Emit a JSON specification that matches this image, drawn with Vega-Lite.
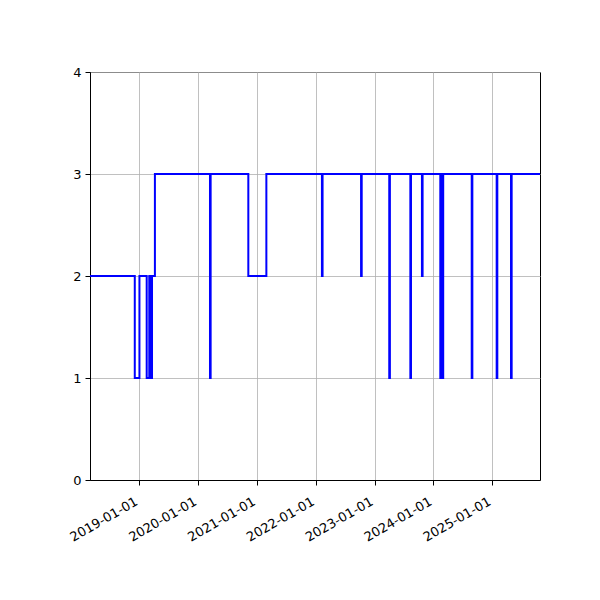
{
  "$schema": "https://vega.github.io/schema/vega-lite/v6.json",
  "description": "Step line of a level over time, 2018 to 2025.",
  "width": 450,
  "height": 408,
  "autosize": {"type": "none"},
  "padding": {"left": 90, "top": 72, "right": 60, "bottom": 120},
  "background": "white",
  "config": {
    "font": "DejaVu Sans",
    "view": {"stroke": "black", "strokeWidth": 1},
    "axis": {
      "labelFont": "DejaVu Sans",
      "labelFontSize": 13,
      "labelColor": "black",
      "domainColor": "black",
      "tickColor": "black",
      "tickSize": 5,
      "gridColor": "#b0b0b0",
      "gridWidth": 0.8,
      "grid": true,
      "labelOverlap": false,
      "labelBound": false,
      "title": null
    }
  },
  "data": {
    "values": [
      {"date": "2018-03-01", "level": 2},
      {"date": "2018-12-04", "level": 1},
      {"date": "2019-01-02", "level": 2},
      {"date": "2019-02-16", "level": 1},
      {"date": "2019-03-04", "level": 2},
      {"date": "2019-03-06", "level": 1},
      {"date": "2019-03-09", "level": 2},
      {"date": "2019-03-11", "level": 1},
      {"date": "2019-03-14", "level": 2},
      {"date": "2019-03-16", "level": 1},
      {"date": "2019-03-21", "level": 2},
      {"date": "2019-04-08", "level": 3},
      {"date": "2020-03-15", "level": 1},
      {"date": "2020-03-19", "level": 3},
      {"date": "2020-11-08", "level": 2},
      {"date": "2021-02-28", "level": 3},
      {"date": "2022-02-08", "level": 2},
      {"date": "2022-02-12", "level": 3},
      {"date": "2022-10-09", "level": 2},
      {"date": "2022-10-13", "level": 3},
      {"date": "2023-04-02", "level": 1},
      {"date": "2023-04-06", "level": 3},
      {"date": "2023-08-11", "level": 1},
      {"date": "2023-08-15", "level": 3},
      {"date": "2023-10-22", "level": 2},
      {"date": "2023-10-26", "level": 3},
      {"date": "2024-02-13", "level": 1},
      {"date": "2024-02-18", "level": 3},
      {"date": "2024-02-22", "level": 1},
      {"date": "2024-03-02", "level": 3},
      {"date": "2024-08-26", "level": 1},
      {"date": "2024-08-30", "level": 3},
      {"date": "2025-01-28", "level": 1},
      {"date": "2025-02-01", "level": 3},
      {"date": "2025-04-27", "level": 1},
      {"date": "2025-05-01", "level": 3},
      {"date": "2025-10-24", "level": 3}
    ]
  },
  "mark": {
    "type": "line",
    "interpolate": "step-after",
    "color": "#0000ff",
    "strokeWidth": 2,
    "clip": true
  },
  "encoding": {
    "x": {
      "field": "date",
      "type": "temporal",
      "scale": {
        "type": "utc",
        "domain": [
          {"year": 2018, "month": 3, "date": 1, "utc": true},
          {"year": 2025, "month": 10, "date": 24, "utc": true}
        ],
        "nice": false
      },
      "axis": {
        "values": [
          {"year": 2019, "month": 1, "date": 1, "utc": true},
          {"year": 2020, "month": 1, "date": 1, "utc": true},
          {"year": 2021, "month": 1, "date": 1, "utc": true},
          {"year": 2022, "month": 1, "date": 1, "utc": true},
          {"year": 2023, "month": 1, "date": 1, "utc": true},
          {"year": 2024, "month": 1, "date": 1, "utc": true},
          {"year": 2025, "month": 1, "date": 1, "utc": true}
        ],
        "labelExpr": "utcFormat(datum.value, '%Y-%m-%d')",
        "labelAngle": -30,
        "labelAlign": "right",
        "labelBaseline": "top",
        "labelPadding": 10,
        "labelOffset": -6
      }
    },
    "y": {
      "field": "level",
      "type": "quantitative",
      "scale": {"domain": [0, 4], "nice": false, "zero": true},
      "axis": {"values": [0, 1, 2, 3, 4], "labelPadding": 4}
    }
  }
}
